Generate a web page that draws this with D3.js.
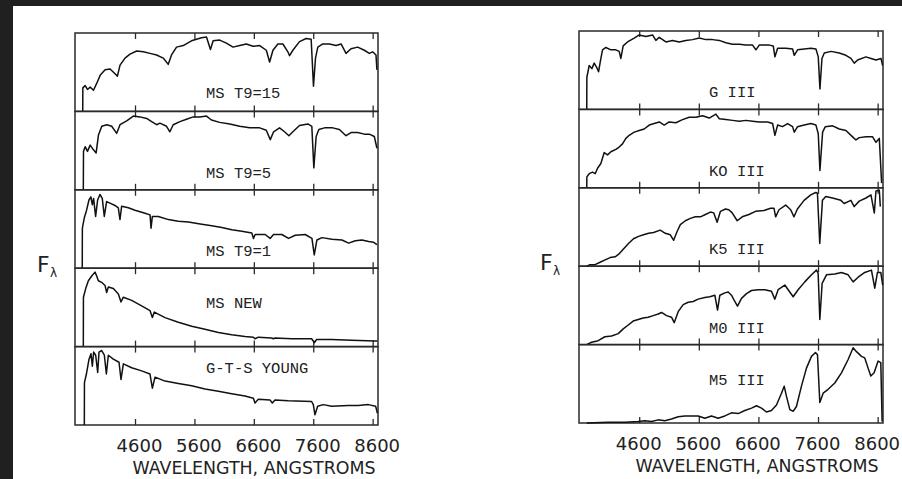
<html>
<head>
    <meta charset="utf-8">
    <title>Spectra</title>
    <style>
        body { margin: 0; background: #fff; }
        text { font-family: "Liberation Mono", "DejaVu Sans Mono", monospace; fill: #222; }
        .axis-text { font-family: "DejaVu Sans", sans-serif; }
        .spec { fill: none; stroke: #111; stroke-width: 1.5; stroke-linejoin: round; }
        .frame { fill: none; stroke: #2a2a2a; stroke-width: 1.5; }
        .tick line { stroke: #2a2a2a; stroke-width: 1.3; }
    </style>
    <script src="https://cdn.jsdelivr.net/npm/d3@7"></script>
</head>
<body>
<div id="chart"></div>
<script>
    let wavelengthTicks = [4600, 5600, 6600, 7600, 8600];
    let leftLabels = ["MS T9=15", "MS T9=5", "MS T9=1", "MS NEW", "G-T-S YOUNG"];
    let rightLabels = ["G III", "KO III", "K5 III", "M0 III", "M5 III"];
    let xTitle = "WAVELENGTH, ANGSTROMS";

    // [wavelength (A), relative flux]
    let msT9_15 = [[3720,0],[3722,0.30],[3761,0.33],[3800,0.28],[3845,0.31],[3901,0.27],[3957,0.36],[4013,0.46],[4097,0.53],[4180,0.54],[4264,0.48],[4304,0.45],[4348,0.59],[4432,0.68],[4516,0.73],[4628,0.77],[4740,0.76],[4852,0.74],[4964,0.72],[5075,0.68],[5159,0.60],[5215,0.72],[5299,0.82],[5411,0.84],[5551,0.90],[5635,0.92],[5719,0.94],[5803,0.95],[5870,0.79],[5915,0.90],[6026,0.91],[6138,0.87],[6250,0.82],[6362,0.84],[6474,0.86],[6586,0.83],[6698,0.84],[6810,0.78],[6866,0.63],[6922,0.78],[7005,0.86],[7089,0.86],[7173,0.76],[7201,0.71],[7257,0.78],[7369,0.89],[7481,0.93],[7565,0.92],[7604,0.32],[7638,0.68],[7677,0.82],[7761,0.86],[7873,0.86],[7984,0.84],[8068,0.86],[8152,0.74],[8236,0.80],[8348,0.82],[8460,0.78],[8544,0.74],[8600,0.76],[8656,0.72],[8672,0.53]];
    let msT9_5 = [[3730,0],[3733,0.49],[3761,0.55],[3800,0.49],[3845,0.57],[3901,0.51],[3946,0.47],[3985,0.70],[4041,0.81],[4125,0.83],[4208,0.81],[4292,0.72],[4348,0.83],[4460,0.88],[4572,0.94],[4684,0.93],[4796,0.91],[4880,0.87],[4964,0.83],[5020,0.85],[5131,0.81],[5187,0.74],[5243,0.83],[5355,0.87],[5467,0.90],[5579,0.93],[5691,0.93],[5803,0.94],[5887,0.89],[6026,0.86],[6194,0.84],[6362,0.81],[6530,0.79],[6698,0.79],[6810,0.76],[6877,0.64],[6933,0.74],[7033,0.79],[7117,0.74],[7190,0.69],[7257,0.74],[7369,0.82],[7509,0.84],[7576,0.81],[7610,0.28],[7649,0.68],[7694,0.77],[7789,0.79],[7928,0.79],[8040,0.77],[8152,0.69],[8236,0.73],[8348,0.73],[8460,0.71],[8544,0.71],[8628,0.68],[8672,0.53]];
    let msT9_1 = [[3712,0],[3714,0.51],[3746,0.64],[3785,0.74],[3825,0.87],[3858,0.91],[3881,0.81],[3903,0.89],[3937,0.66],[3971,0.87],[4010,0.94],[4049,0.89],[4083,0.66],[4122,0.85],[4179,0.83],[4263,0.80],[4319,0.77],[4347,0.62],[4375,0.79],[4488,0.77],[4600,0.74],[4769,0.70],[4853,0.68],[4870,0.51],[4892,0.66],[4993,0.66],[5162,0.62],[5330,0.60],[5499,0.59],[5724,0.56],[5892,0.54],[6061,0.52],[6229,0.49],[6398,0.47],[6566,0.45],[6594,0.38],[6622,0.43],[6791,0.43],[6875,0.38],[6931,0.43],[7072,0.43],[7184,0.38],[7297,0.42],[7465,0.43],[7578,0.38],[7617,0.17],[7662,0.36],[7746,0.39],[7915,0.37],[8083,0.36],[8196,0.32],[8308,0.35],[8420,0.36],[8533,0.34],[8617,0.33],[8673,0.30]];
    let msNew = [[3730,0],[3732,0.63],[3770,0.74],[3815,0.84],[3871,0.90],[3927,0.95],[3955,0.90],[3983,0.84],[4039,0.82],[4095,0.78],[4123,0.69],[4151,0.76],[4235,0.74],[4320,0.67],[4364,0.57],[4404,0.63],[4544,0.59],[4712,0.52],[4852,0.46],[4892,0.37],[4925,0.44],[5105,0.37],[5329,0.31],[5554,0.26],[5778,0.22],[6003,0.18],[6227,0.15],[6451,0.13],[6592,0.12],[6620,0.10],[6676,0.12],[6900,0.11],[6928,0.10],[6956,0.11],[7237,0.10],[7573,0.10],[7618,0.05],[7657,0.09],[7910,0.09],[8247,0.08],[8639,0.07],[8680,0.07]];
    let gtsYoung = [[3747,0],[3749,0.54],[3787,0.67],[3826,0.84],[3859,0.91],[3882,0.75],[3904,0.93],[3938,0.89],[3972,0.67],[3994,0.93],[4039,0.95],[4084,0.89],[4118,0.65],[4151,0.89],[4235,0.84],[4331,0.80],[4364,0.58],[4404,0.78],[4544,0.73],[4712,0.69],[4852,0.65],[4892,0.47],[4937,0.61],[5105,0.56],[5329,0.53],[5554,0.50],[5778,0.46],[6003,0.43],[6227,0.40],[6451,0.37],[6592,0.34],[6620,0.28],[6676,0.33],[6872,0.32],[6911,0.28],[6956,0.32],[7181,0.31],[7573,0.30],[7601,0.26],[7629,0.13],[7674,0.24],[7770,0.26],[7910,0.24],[8190,0.25],[8359,0.25],[8527,0.26],[8650,0.24],[8680,0.15]];

    let g3 = [[3720,0],[3722,0.41],[3761,0.56],[3806,0.52],[3845,0.59],[3884,0.54],[3918,0.48],[3957,0.65],[3985,0.76],[4041,0.79],[4125,0.76],[4208,0.76],[4264,0.74],[4292,0.65],[4331,0.81],[4404,0.86],[4516,0.91],[4600,0.95],[4712,0.93],[4824,0.95],[4880,0.88],[4936,0.92],[5048,0.86],[5159,0.88],[5271,0.86],[5383,0.88],[5495,0.89],[5607,0.91],[5719,0.89],[5831,0.89],[5943,0.88],[6054,0.85],[6166,0.83],[6278,0.83],[6390,0.82],[6502,0.82],[6558,0.76],[6614,0.82],[6782,0.82],[6849,0.81],[6877,0.67],[6922,0.78],[7061,0.78],[7173,0.77],[7201,0.69],[7257,0.76],[7369,0.77],[7481,0.78],[7565,0.77],[7604,0.67],[7632,0.26],[7666,0.65],[7705,0.72],[7817,0.74],[7956,0.72],[8068,0.69],[8152,0.65],[8208,0.59],[8264,0.63],[8404,0.67],[8488,0.65],[8572,0.63],[8656,0.65],[8684,0.56]];
    let k0_3 = [[3720,0],[3722,0.14],[3761,0.18],[3817,0.20],[3862,0.18],[3901,0.25],[3957,0.31],[4013,0.45],[4069,0.42],[4125,0.46],[4208,0.49],[4264,0.52],[4320,0.56],[4376,0.63],[4432,0.67],[4516,0.71],[4600,0.73],[4684,0.75],[4768,0.80],[4852,0.82],[4936,0.84],[5020,0.80],[5103,0.84],[5215,0.83],[5327,0.87],[5439,0.90],[5551,0.90],[5663,0.92],[5775,0.89],[5887,0.94],[5943,0.88],[6054,0.87],[6166,0.86],[6278,0.85],[6390,0.86],[6502,0.85],[6614,0.84],[6754,0.84],[6838,0.82],[6877,0.67],[6922,0.80],[7005,0.78],[7089,0.82],[7173,0.78],[7201,0.71],[7257,0.78],[7369,0.80],[7481,0.82],[7565,0.80],[7604,0.69],[7632,0.22],[7677,0.71],[7722,0.78],[7845,0.79],[7956,0.75],[8068,0.73],[8180,0.65],[8236,0.61],[8292,0.64],[8404,0.65],[8516,0.65],[8572,0.58],[8628,0.63],[8667,0.06]];
    let k5_3 = [[3719,0],[3775,0.02],[3859,0.02],[3944,0.05],[4028,0.08],[4112,0.11],[4196,0.12],[4252,0.15],[4336,0.22],[4420,0.29],[4505,0.35],[4589,0.38],[4673,0.40],[4757,0.42],[4841,0.43],[4953,0.46],[5038,0.42],[5122,0.40],[5178,0.33],[5234,0.44],[5290,0.53],[5374,0.58],[5458,0.61],[5542,0.63],[5627,0.63],[5711,0.66],[5795,0.69],[5851,0.68],[5907,0.56],[5963,0.70],[6047,0.73],[6103,0.72],[6160,0.68],[6244,0.58],[6328,0.63],[6440,0.66],[6552,0.70],[6693,0.71],[6805,0.74],[6861,0.74],[6889,0.63],[6945,0.72],[7057,0.78],[7141,0.72],[7197,0.63],[7254,0.73],[7366,0.84],[7478,0.91],[7562,0.94],[7590,0.93],[7629,0.29],[7674,0.84],[7730,0.89],[7843,0.87],[7983,0.84],[8039,0.80],[8151,0.84],[8207,0.76],[8291,0.83],[8404,0.87],[8488,0.91],[8544,0.68],[8572,0.96],[8628,0.97],[8645,0.76]];
    let m0_3 = [[3717,0],[3801,0.03],[3912,0.05],[4024,0.10],[4136,0.11],[4248,0.14],[4332,0.20],[4416,0.25],[4499,0.30],[4583,0.32],[4667,0.34],[4751,0.35],[4835,0.37],[4919,0.39],[4975,0.41],[5058,0.37],[5142,0.35],[5187,0.28],[5254,0.42],[5338,0.51],[5422,0.54],[5506,0.55],[5589,0.58],[5701,0.60],[5785,0.61],[5869,0.63],[5914,0.44],[5953,0.63],[6037,0.66],[6093,0.67],[6148,0.63],[6204,0.55],[6249,0.49],[6316,0.59],[6400,0.65],[6484,0.69],[6596,0.70],[6707,0.70],[6819,0.68],[6875,0.58],[6931,0.70],[7043,0.76],[7099,0.70],[7183,0.61],[7266,0.70],[7378,0.80],[7490,0.89],[7574,0.95],[7602,0.91],[7630,0.32],[7669,0.78],[7742,0.89],[7881,0.90],[7993,0.92],[8105,0.89],[8189,0.80],[8273,0.86],[8384,0.92],[8496,0.95],[8552,0.72],[8597,0.92],[8653,0.92],[8685,0.76]];
    let m5_3 = [[3720,0],[4080,0.01],[4360,0.01],[4583,0.02],[4695,0.03],[4807,0.02],[4919,0.04],[5030,0.03],[5142,0.05],[5254,0.08],[5366,0.09],[5478,0.09],[5589,0.09],[5701,0.06],[5813,0.09],[5925,0.06],[6037,0.09],[6148,0.13],[6260,0.12],[6372,0.16],[6484,0.19],[6568,0.22],[6652,0.19],[6735,0.14],[6819,0.16],[6903,0.23],[6987,0.38],[7032,0.47],[7071,0.34],[7127,0.17],[7183,0.15],[7238,0.21],[7322,0.47],[7406,0.70],[7490,0.85],[7557,0.90],[7591,0.87],[7630,0.26],[7686,0.38],[7770,0.43],[7881,0.51],[7993,0.64],[8105,0.81],[8189,0.96],[8245,0.91],[8329,0.85],[8384,0.83],[8440,0.70],[8485,0.60],[8541,0.64],[8608,0.79],[8653,0.77],[8675,0.02]];

    let leftSpectra = [msT9_15, msT9_5, msT9_1, msNew, gtsYoung];
    let rightSpectra = [g3, k0_3, k5_3, m0_3, m5_3];

    function getChartConfig() {
        let width = 902;
        let height = 479;
        let svg = d3.select("#chart")
            .append("svg")
            .attr("width", width)
            .attr("height", height);
        // dark scan border top and left
        svg.append("rect").attr("width", width).attr("height", height).attr("fill", "#fff");
        svg.append("rect").attr("width", width).attr("height", 6).attr("fill", "#202020");
        svg.append("rect").attr("width", 13).attr("height", height).attr("fill", "#202020");
        let columns = [
            { x0: 75, x1: 378, top: 33, bottom: 425, labelX: 206, labelUp: [13, 12, 12, 39, 52],
              fx: 37, tickShift: 4, titleX: 254, names: leftLabels, spectra: leftSpectra },
            { x0: 579, x1: 883, top: 31, bottom: 423, labelX: 709, labelUp: [12, 12, 12, 12, 38],
              fx: 540, tickShift: -1, titleX: 757, names: rightLabels, spectra: rightSpectra }
        ];
        return { width, height, svg, columns };
    }

    function drawColumn(col, svg) {
        let x = d3.scaleLinear().domain([3590, 8690]).range([col.x0, col.x1]);
        let n = col.spectra.length;
        let ph = (col.bottom - col.top) / n;
        let g = svg.append("g");

        col.spectra.forEach((spec, i) => {
            let pTop = col.top + i * ph;
            let pBottom = pTop + ph;
            let y = d3.scaleLinear().domain([0, 1]).range([pBottom, pTop]);

            g.append("rect")
                .attr("class", "frame")
                .attr("x", col.x0)
                .attr("y", pTop)
                .attr("width", col.x1 - col.x0)
                .attr("height", ph);

            g.append("g")
                .attr("transform", "translate(0," + pTop + ")")
                .call(d3.axisBottom(x).tickValues(wavelengthTicks).tickSize(6).tickFormat(""))
                .call(a => a.select(".domain").remove());
            g.append("g")
                .attr("transform", "translate(0," + pBottom + ")")
                .call(d3.axisTop(x).tickValues(wavelengthTicks).tickSize(6).tickFormat(""))
                .call(a => a.select(".domain").remove());

            let line = d3.line()
                .x(d => x(d[0]))
                .y(d => y(d[1]));
            g.append("path")
                .attr("class", "spec")
                .attr("d", line(spec));

            g.append("text")
                .attr("x", col.labelX)
                .attr("y", pBottom - col.labelUp[i])
                .style("font-size", "15.5px")
                .text(col.names[i]);
        });

        let labels = g.append("g")
            .attr("transform", "translate(" + col.tickShift + "," + col.bottom + ")")
            .call(d3.axisBottom(x).tickValues(wavelengthTicks).tickSize(0).tickPadding(14).tickFormat(d3.format("d")));
        labels.select(".domain").remove();
        labels.selectAll("text")
            .attr("class", "axis-text")
            .style("font-size", "18px")
            .attr("fill", "#222");

        g.append("text")
            .attr("class", "axis-text")
            .attr("x", col.titleX)
            .attr("y", col.bottom + 49)
            .attr("text-anchor", "middle")
            .style("font-size", "17.4px")
            .text(xTitle);

        let fy = (col.top + col.bottom) / 2 + 43;
        g.append("text")
            .attr("class", "axis-text")
            .attr("x", col.fx)
            .attr("y", fy)
            .style("font-size", "22px")
            .text("F");
        g.append("text")
            .attr("class", "axis-text")
            .attr("x", col.fx + 13)
            .attr("y", fy + 5)
            .style("font-size", "12px")
            .text("λ");
    }

    function showChart() {
        let config = getChartConfig();
        config.columns.forEach(col => drawColumn(col, config.svg));
    }
    showChart();
</script>
</body>
</html>
